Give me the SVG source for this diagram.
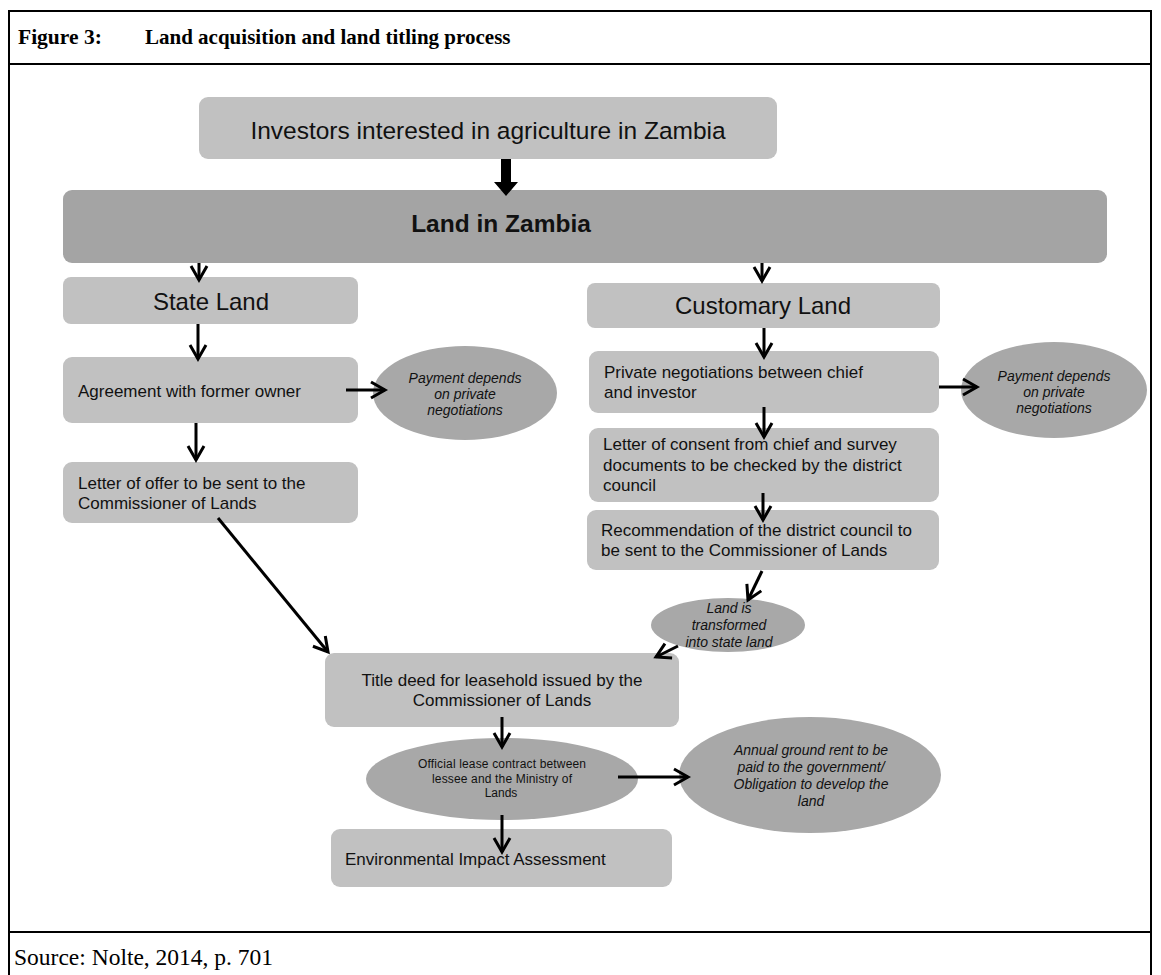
<svg xmlns="http://www.w3.org/2000/svg" width="1161" height="975" viewBox="0 0 1161 975">
<defs>
<style>
.frame{stroke:#000;stroke-width:2;fill:none}
.box{fill:#c1c1c1}
.dark{fill:#a4a4a4}
.ell{fill:#a8a8a8}
.t{font-family:"Liberation Sans",Arial,sans-serif;fill:#111}
.big{font-size:24.5px}
.med{font-size:17px}
.it{font-style:italic}
.ser{font-family:"Liberation Serif","Times New Roman",serif;fill:#000}
.c{text-anchor:middle}
.con{stroke:#000;stroke-width:3;fill:none}
</style>
<marker id="ah" markerUnits="userSpaceOnUse" markerWidth="20" markerHeight="20" viewBox="0 0 20 20" refX="16" refY="10" orient="auto">
<path d="M2,2 L16,10 L2,18" fill="none" stroke="#000" stroke-width="3"/>
</marker>
</defs>
<rect width="1161" height="975" fill="#fff"/>
<g id="frame">
<line class="frame" x1="9" y1="11" x2="1151" y2="11"/>
<line class="frame" x1="9" y1="10" x2="9" y2="975"/>
<line class="frame" x1="1151" y1="10" x2="1151" y2="975"/>
<line class="frame" x1="9" y1="64" x2="1151" y2="64"/>
<line class="frame" x1="9" y1="932" x2="1151" y2="932"/>
<text class="ser" x="18" y="44" font-size="21.5" font-weight="bold">Figure 3:</text>
<text class="ser" x="145" y="44" font-size="21" font-weight="bold">Land acquisition and land titling process</text>
<text class="ser" x="14" y="965" font-size="23.5">Source: Nolte, 2014, p. 701</text>
</g>
<g id="investors"><rect class="box" x="199" y="97" width="578" height="62" rx="9"/><text class="t big c" x="488" y="139">Investors interested in agriculture in Zambia</text></g>
<g id="land"><rect class="dark" x="63" y="190" width="1044" height="73" rx="9"/><text class="t big c" x="501" y="232" font-weight="bold">Land in Zambia</text></g>
<g id="state"><rect class="box" x="63" y="277" width="295" height="47" rx="8"/><text class="t c" x="211" y="310" font-size="24">State Land</text></g>
<g id="customary"><rect class="box" x="587" y="283" width="353" height="45" rx="8"/><text class="t c" x="763" y="314" font-size="24">Customary Land</text></g>
<g id="agreement"><rect class="box" x="63" y="357" width="295" height="66" rx="9"/><text class="t med" x="78" y="397">Agreement with former owner</text></g>
<g id="payment1"><ellipse class="ell" cx="465" cy="393" rx="92" ry="47"/>
<text class="t it c" font-size="14" x="465" y="383">Payment depends</text>
<text class="t it c" font-size="14" x="465" y="399">on private</text>
<text class="t it c" font-size="14" x="465" y="415">negotiations</text></g>
<g id="offer"><rect class="box" x="63" y="462" width="295" height="61" rx="9"/>
<text class="t med" x="78" y="489">Letter of offer to be sent to the</text>
<text class="t med" x="78" y="509">Commissioner of Lands</text></g>
<g id="private"><rect class="box" x="589" y="351" width="350" height="62" rx="9"/>
<text class="t med" x="604" y="378">Private negotiations between chief</text>
<text class="t med" x="604" y="398">and investor</text></g>
<g id="payment2"><ellipse class="ell" cx="1054" cy="390" rx="93" ry="48"/>
<text class="t it c" font-size="14" x="1054" y="381">Payment depends</text>
<text class="t it c" font-size="14" x="1054" y="397">on private</text>
<text class="t it c" font-size="14" x="1054" y="413">negotiations</text></g>
<g id="consent"><rect class="box" x="589" y="428" width="350" height="74" rx="9"/>
<text class="t med" x="603" y="450">Letter of consent from chief and survey</text>
<text class="t med" x="603" y="471">documents to be checked by the district</text>
<text class="t med" x="603" y="491">council</text></g>
<g id="recommendation"><rect class="box" x="587" y="510" width="352" height="60" rx="9"/>
<text class="t med" x="601" y="536">Recommendation of the district council to</text>
<text class="t med" x="601" y="556">be sent to the Commissioner of Lands</text></g>
<g id="transformed"><ellipse class="ell" cx="728" cy="625" rx="77" ry="27"/>
<text class="t it c" font-size="14" x="729" y="613">Land is</text>
<text class="t it c" font-size="14" x="729" y="630">transformed</text>
<text class="t it c" font-size="14" x="729" y="647">into state land</text></g>
<g id="titledeed"><rect class="box" x="325" y="653" width="354" height="74" rx="9"/>
<text class="t med c" x="502" y="686">Title deed for leasehold issued by the</text>
<text class="t med c" x="502" y="706">Commissioner of Lands</text></g>
<g id="official"><ellipse class="ell" cx="502" cy="779" rx="136" ry="41"/>
<text class="t c" font-size="12" x="502" y="768" textLength="168">Official lease contract between</text>
<text class="t c" font-size="12" x="502" y="783" textLength="140">lessee and the Ministry of</text>
<text class="t c" font-size="12" x="501" y="797">Lands</text></g>
<g id="annual"><ellipse class="ell" cx="810" cy="775" rx="131" ry="58"/>
<text class="t it c" font-size="14" x="811" y="755">Annual ground rent to be</text>
<text class="t it c" font-size="14" x="811" y="772">paid to the government/</text>
<text class="t it c" font-size="14" x="811" y="789">Obligation to develop the</text>
<text class="t it c" font-size="14" x="811" y="806">land</text></g>
<g id="eia"><rect class="box" x="331" y="829" width="341" height="58" rx="9"/>
<text class="t med" x="345" y="865">Environmental Impact Assessment</text></g>
<g id="connectors">
<polygon points="501,159 511,159 511,182 518,182 506,196 494,182 501,182" fill="#000"/>
<line class="con" x1="199" y1="263" x2="199" y2="280" marker-end="url(#ah)"/>
<line class="con" x1="762" y1="263" x2="762" y2="281" marker-end="url(#ah)"/>
<line class="con" x1="198" y1="324" x2="198" y2="359" marker-end="url(#ah)"/>
<line class="con" x1="196" y1="423" x2="196" y2="460" marker-end="url(#ah)"/>
<line class="con" x1="346" y1="390" x2="385" y2="390" marker-end="url(#ah)"/>
<line class="con" x1="764" y1="328" x2="764" y2="357" marker-end="url(#ah)"/>
<line class="con" x1="939" y1="387" x2="977" y2="387" marker-end="url(#ah)"/>
<line class="con" x1="764" y1="407" x2="764" y2="437" marker-end="url(#ah)"/>
<line class="con" x1="763" y1="493" x2="763" y2="520" marker-end="url(#ah)"/>
<line class="con" x1="762" y1="571" x2="748" y2="600" marker-end="url(#ah)"/>
<line class="con" x1="678" y1="646" x2="656" y2="657" marker-end="url(#ah)"/>
<line class="con" x1="218" y1="518" x2="328" y2="652" marker-end="url(#ah)"/>
<line class="con" x1="502" y1="717" x2="502" y2="747" marker-end="url(#ah)"/>
<line class="con" x1="502" y1="815" x2="502" y2="852" marker-end="url(#ah)"/>
<line class="con" x1="618" y1="777" x2="688" y2="777" marker-end="url(#ah)"/>
</g>
</svg>
